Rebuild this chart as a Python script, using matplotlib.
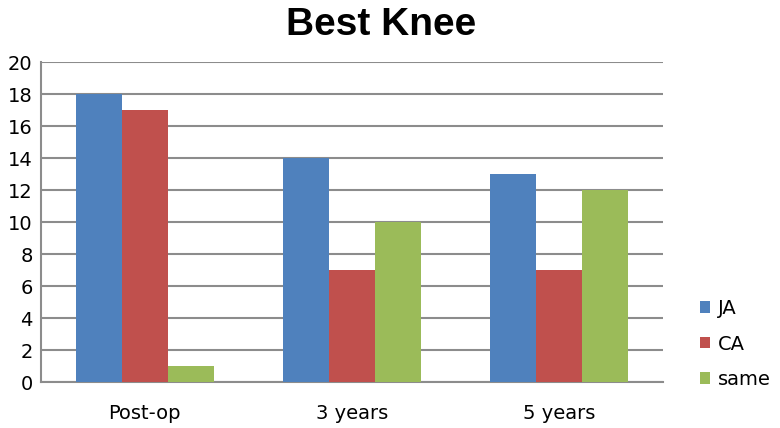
import matplotlib.pyplot as plt
import numpy as np

plt.rcParams['font.family'] = ['DejaVu Sans']

# chart data
categories = ['Post-op', '3 years', '5 years']
series_names = ['JA', 'CA', 'same']
ja = [18, 14, 13]
ca = [17, 7, 7]
same = [1, 10, 12]
yticks = [0, 2, 4, 6, 8, 10, 12, 14, 16, 18, 20]

colors = ['#4F81BD', '#C0504D', '#9BBB59']

fig = plt.figure(figsize=(7.8, 4.28), dpi=100)
ax = fig.add_axes([41 / 780, 46 / 428, 622 / 780, 320 / 428])

x = np.arange(len(categories))
w = 0.222
for i, (vals, name) in enumerate(zip([ja, ca, same], series_names)):
    ax.bar(x + (i - 1) * w, vals, width=w, color=colors[i], label=name, zorder=3)

ax.set_xlim(-0.5, len(categories) - 0.5)
ax.set_ylim(0, 20)
ax.set_yticks(yticks)
ax.set_xticks(x)
ax.set_xticklabels(categories)
ax.tick_params(axis='y', length=0, pad=6, labelsize=14)
ax.tick_params(axis='x', length=0, pad=16, labelsize=14)

# gridlines and frame
ax.yaxis.grid(True, color='#8c8c8c', linewidth=1.5, zorder=0)
for s in ['top', 'right']:
    ax.spines[s].set_visible(False)
for s in ['left', 'bottom']:
    ax.spines[s].set_color('#8c8c8c')
    ax.spines[s].set_linewidth(1.5)

fig.text(381 / 780, 1 - 35 / 428, 'Best Knee', ha='center', va='baseline',
         fontsize=28, weight='bold', family='Liberation Sans')

leg = ax.legend(loc='center left', bbox_to_anchor=(690 / 780, 1 - 344 / 428),
                bbox_transform=fig.transFigure, frameon=False, fontsize=14,
                handlelength=0.55, handleheight=0.55, handletextpad=0.4,
                labelspacing=0.85, borderpad=0)

fig.savefig('out.png', dpi=100)
